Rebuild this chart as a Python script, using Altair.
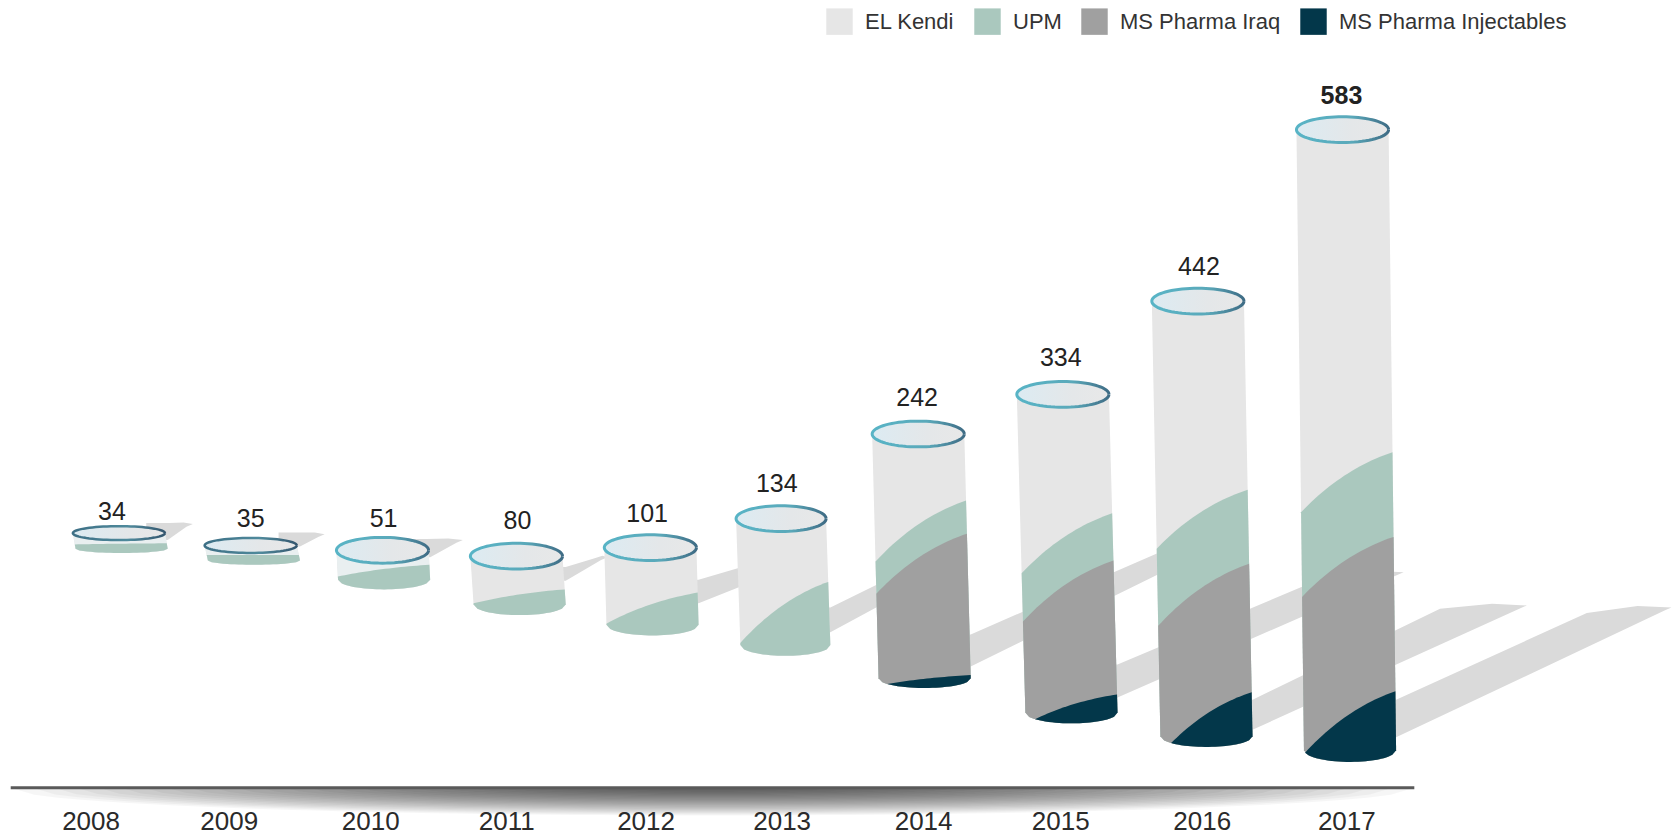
import math
import altair as alt
import pandas as pd

alt.data_transformers.disable_max_rows()

years = [2008, 2009, 2010, 2011, 2012, 2013, 2014, 2015, 2016, 2017]
totals = [34, 35, 51, 80, 101, 134, 242, 334, 442, 583]
series = ["EL Kendi", "UPM", "MS Pharma Iraq", "MS Pharma Injectables"]
series_colors = ["#e6e6e6", "#aac8be", "#a0a0a0", "#03374a"]

top_x = [111, 234, 357, 482, 607, 729, 857, 992, 1118, 1253]
top_y = [497.5, 509, 513.5, 519, 511, 484, 405, 368, 281, 121]
top_ry = [6.5, 7, 12, 12, 12, 12, 12, 12, 12, 12]
base_x = [113.5, 237, 358.5, 485, 609, 733, 863, 1000, 1126, 1260]
base_y = [516, 527, 550, 574, 593, 612, 642, 675, 697, 711]
base_ry = [4, 4, 9, 10, 10, 10, 9, 10, 10, 11]
half_w = [43, 43, 43, 43, 43, 42, 43, 43, 43, 43]

upm_left = [508, 518, 538, 563, 582, 600, 524, 535, 512, 478]
upm_right = [507, 518, 527, 550, 553, 543, 467, 479, 457, 422]
iraq_left = [None] * 6 + [554, 580, 584, 557]
iraq_right = [None] * 6 + [498, 523, 526, 501]
navy_left_x = [None] * 6 + [828, 966, 1093, 1218]
navy_right = [None] * 6 + [630, 648, 646, 645]

shadow_tip_x = [180, 303, 432, 567, 760, 895, 1165, 1310, 1425, 1560]
shadow_tip_y = [489, 498.5, 504, 520, 520, 526, 495, 534, 565, 567]
shadow_shoulder_x = [158, 280, 398, 555, 710, 850, 1120, 1238, 1344, 1481]
shadow_shoulder_y = [488, 497, 503, 521, 524, 530, 499, 538, 568, 572]
shadow_high = [488, 497, 503, 529, 541, 567, 592, 620, 653, 653]
shadow_low = [504, 510, 520, 542, 563, 590, 622, 651, 681, 688]

value_label_x = [104.5, 234, 358, 483, 604, 725, 856, 990, 1119, 1252]
value_label_y = [478, 484, 484, 486, 480, 452, 371, 334, 249, 90]
year_label_x = [85, 214, 346, 473, 603, 730, 862, 990, 1122, 1257]
year_label_y = 767

axis_left, axis_right, axis_y = 10, 1320, 735

x_scale = alt.Scale(domain=[7.47, 1560.5], nice=False, zero=False)
y_scale = alt.Scale(domain=[782.0, 7.47], nice=False, zero=False)
X = alt.X("x:Q", scale=x_scale, axis=None)
Y = alt.Y("y:Q", scale=y_scale, axis=None)


def arc(i, x_from, x_to, n=24):
    pts = []
    for k in range(n + 1):
        x = x_from + (x_to - x_from) * k / n
        t = max(-1, min(1, (x - base_x[i]) / half_w[i]))
        pts.append((x, base_y[i] - base_ry[i] + base_ry[i] * math.sqrt(1 - t * t)))
    return pts


def edge_x(i, y, side):
    f = (y - top_y[i]) / max(1, (base_y[i] - base_ry[i] - top_y[i]))
    f = max(0, min(1, f))
    return top_x[i] + (base_x[i] - top_x[i]) * f + side * half_w[i]


def curve(p0, p1, n=24):
    cx = p0[0] + 0.45 * (p1[0] - p0[0])
    cy = p1[1] + 0.28 * (p0[1] - p1[1])
    out = []
    for k in range(n + 1):
        t = k / n
        out.append(((1 - t) ** 2 * p0[0] + 2 * t * (1 - t) * cx + t * t * p1[0],
                    (1 - t) ** 2 * p0[1] + 2 * t * (1 - t) * cy + t * t * p1[1]))
    return out


def rows(pid, pts):
    return [{"id": pid, "o": k, "x": p[0], "y": p[1]} for k, p in enumerate(pts)]


def body(i):
    return [(top_x[i] - half_w[i], top_y[i]), (top_x[i] + half_w[i], top_y[i])] + arc(
        i, base_x[i] + half_w[i], base_x[i] - half_w[i])


def segment(i, y_left, y_right):
    left = (edge_x(i, y_left, -1), y_left)
    right = (edge_x(i, y_right, 1), y_right)
    return curve(left, right) + arc(i, base_x[i] + half_w[i], base_x[i] - half_w[i])


def navy(i, x_left, y_right):
    right = (edge_x(i, y_right, 1), y_right)
    start = arc(i, x_left, x_left, 1)[0]
    return curve(start, right) + arc(i, base_x[i] + half_w[i], x_left)


kendi, upm, iraq, inj, tops, shadows, lens = [], [], [], [], [], [], []
for i, yr in enumerate(years):
    kendi += rows(yr, body(i))
    upm += rows(yr, segment(i, upm_left[i], upm_right[i]))
    if iraq_left[i] is not None:
        iraq += rows(yr, segment(i, iraq_left[i], iraq_right[i]))
        inj += rows(yr, navy(i, navy_left_x[i], navy_right[i]))
    tops += rows(yr, [(top_x[i] + half_w[i] * math.cos(2 * math.pi * k / 72),
                       top_y[i] + top_ry[i] * math.sin(2 * math.pi * k / 72)) for k in range(73)])
    xr = base_x[i] + half_w[i]
    tipx, tipy = shadow_tip_x[i], shadow_tip_y[i]
    sx, sy = shadow_shoulder_x[i], shadow_shoulder_y[i]
    shadows += rows(yr, [(xr - 20, shadow_high[i]), (xr, shadow_high[i]), (sx, sy),
                         (sx + 0.6 * (tipx - sx), tipy - 1.5), (tipx, tipy), (tipx - 6, tipy + 2.5),
                         (xr, shadow_low[i]), (xr - 20, shadow_low[i])])

lens_layers = 26
mid = (axis_left + axis_right) / 2
half_span = (axis_right - axis_left) / 2
for depth in range(1, lens_layers + 1):
    share = depth / lens_layers
    w = half_span * share ** 0.8
    pts = []
    for k in range(0, 61):
        t = -1 + 2 * k / 60
        pts.append((mid + w * t, axis_y + 26 * share * math.sqrt(1 - t * t)))
    lens += rows(depth, pts)


def poly(rowset, fill, **kw):
    return alt.Chart(pd.DataFrame(rowset)).mark_line(fill=fill, strokeWidth=0, **kw).encode(
        x=X, y=Y, order="o:Q", detail="id:N",
    )


shadow_layer = poly(shadows, "#dadada")
kendi_layer = poly(kendi, series_colors[0])
pale_layer = alt.Chart(pd.DataFrame(kendi)).transform_filter("datum.id <= 2010").mark_line(
    fill="#e9eff0", strokeWidth=0).encode(x=X, y=Y, order="o:Q", detail="id:N")
upm_layer = poly(upm, series_colors[1])
iraq_layer = poly(iraq, series_colors[2])
inj_layer = poly(inj, series_colors[3])
lens_layer = poly(lens, "#000000", fillOpacity=0.036)


def gradient(a, b, c):
    return alt.Gradient(
        gradient="linear", x1=0, x2=1, y1=0, y2=0,
        stops=[alt.GradientStop(offset=0, color=a),
               alt.GradientStop(offset=0.6, color=b),
               alt.GradientStop(offset=1, color=c)],
    )


top_fill = gradient("#dcebf2", "#e4e7e9", "#e8e8e8")
top_layer = alt.Chart(pd.DataFrame(tops)).transform_filter("datum.id > 2009").mark_line(
    fill=top_fill, stroke=gradient("#58b4c6", "#5aa9ba", "#3f6c85"), strokeWidth=3).encode(
    x=X, y=Y, order="o:Q", detail="id:N")
top_dark = alt.Chart(pd.DataFrame(tops)).transform_filter("datum.id <= 2009").mark_line(
    fill=top_fill, stroke=gradient("#3d6f85", "#4f8a9c", "#34566e"), strokeWidth=2.5).encode(
    x=X, y=Y, order="o:Q", detail="id:N")

axis_df = pd.DataFrame({"x": [axis_left], "x2": [axis_right], "y": [axis_y]})
axis_line = alt.Chart(axis_df).mark_rule(color="#5a5a5a", strokeWidth=3).encode(x=X, x2="x2:Q", y=Y)

labels_df = pd.DataFrame({"x": value_label_x, "y": value_label_y, "t": [str(v) for v in totals], "v": totals})
value_text = alt.Chart(labels_df).transform_filter("datum.v < 583").mark_text(
    font="Liberation Sans", fontSize=25, color="#222222").encode(x=X, y=Y, text="t:N")
value_bold = alt.Chart(labels_df).transform_filter("datum.v == 583").mark_text(
    font="Liberation Sans", fontSize=25, fontWeight="bold", color="#222222").encode(x=X, y=Y, text="t:N")

years_df = pd.DataFrame({"x": year_label_x, "y": [year_label_y] * len(years), "t": [str(y) for y in years]})
year_text = alt.Chart(years_df).mark_text(font="Liberation Sans", fontSize=26, color="#2a2a2a").encode(
    x=X, y=Y, text="t:N")

legend_df = pd.DataFrame({"s": series, "x": [100] * 4, "y": [100] * 4})
legend_layer = alt.Chart(legend_df).mark_square(opacity=0, size=10).encode(
    x=X, y=Y,
    color=alt.Color(
        "s:N",
        scale=alt.Scale(domain=series, range=series_colors),
        legend=alt.Legend(
            orient="none", legendX=818, legendY=0, direction="horizontal", title=None,
            symbolType="square", symbolSize=700, symbolOpacity=1, symbolStrokeWidth=0,
            labelFont="Liberation Sans", labelFontSize=22, labelColor="#333333",
            labelOffset=12, columnPadding=19, labelLimit=400,
        ),
    ),
)

chart = alt.layer(
    shadow_layer, kendi_layer, pale_layer, upm_layer, iraq_layer, inj_layer, top_layer, top_dark,
    lens_layer, axis_line, value_text, value_bold, year_text, legend_layer,
).properties(
    width=1664, height=830, padding=0, background="white",
    autosize=alt.AutoSizeParams(type="none"),
).configure_view(stroke=None)

chart.save("out.html", embed_options={"renderer": "svg", "actions": False})
